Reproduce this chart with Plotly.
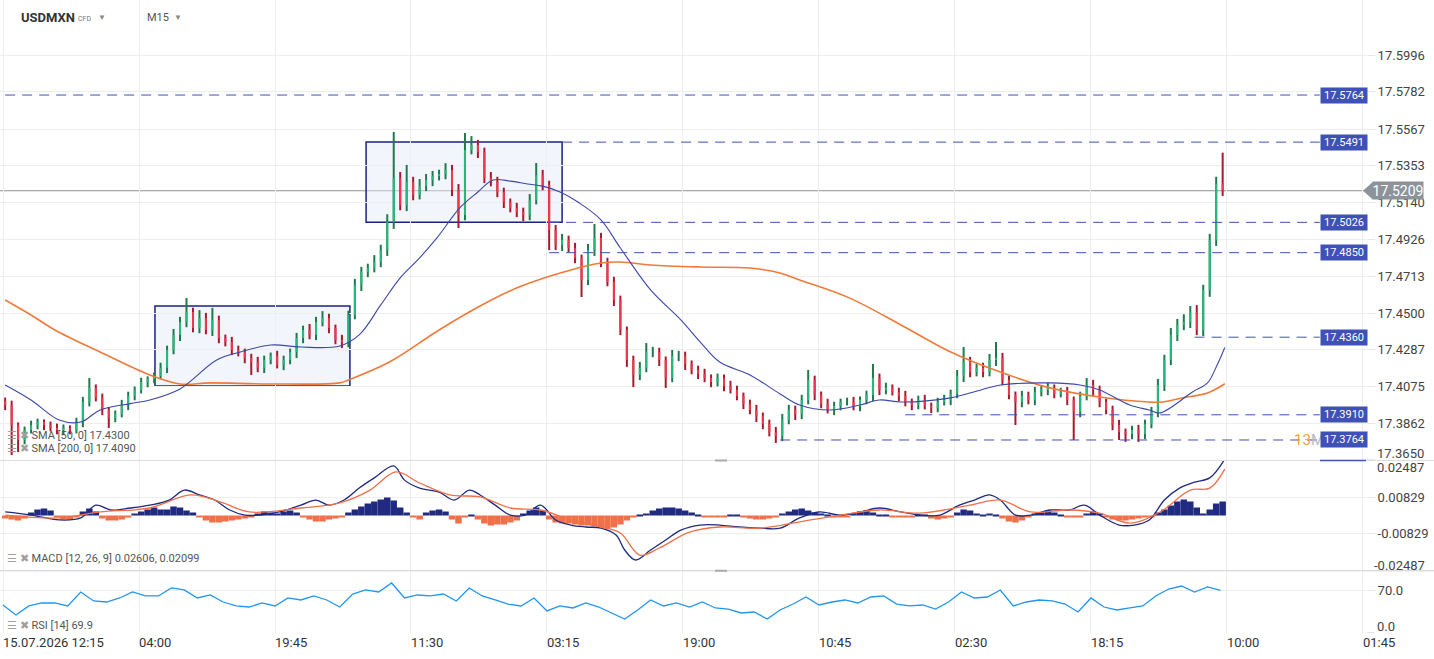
import plotly.graph_objects as go

# ---------------- data ----------------
X_TICK_IDX = [0, 63, 126, 189, 252, 315, 378, 441, 504, 567, 630]
X_TICK_TEXT = ["15.07.2026 12:15", "04:00", "19:45", "11:30", "03:15", "19:00",
               "10:45", "02:30", "18:15", "10:00", "01:45"]
PRICE_TICKS = [17.3650, 17.3862, 17.4075, 17.4287, 17.4500, 17.4713, 17.4926,
               17.5140, 17.5353, 17.5567, 17.5782, 17.5996]
MACD_TICKS = [-0.02487, -0.00829, 0.00829, 0.02487]
RSI_TICKS = [0.0, 70.0]

BAR_STEP = 3          # one drawn candle per 3 M15 bars
FIRST_IDX = 1
OPEN_FIRST = 17.3990
CLOSE = [
    17.3967, 17.3851, 17.3764, 17.3822, 17.3851, 17.3868, 17.3851, 17.3834, 17.3822, 17.3834,
    17.3822, 17.3868, 17.3984, 17.4066, 17.4008, 17.3938, 17.3892, 17.3915, 17.3967, 17.4019,
    17.4054, 17.4100, 17.4118, 17.4135, 17.4182, 17.4286, 17.4373, 17.4448, 17.4506, 17.4413,
    17.4471, 17.4402, 17.4460, 17.4355, 17.4332, 17.4286, 17.4274, 17.4239, 17.4216, 17.4182,
    17.4228, 17.4251, 17.4199, 17.4228, 17.4274, 17.4355, 17.4402, 17.4373, 17.4448, 17.4471,
    17.4413, 17.4344, 17.4332, 17.4489, 17.4663, 17.4738, 17.4761, 17.4796, 17.4866, 17.5028,
    17.5283, 17.5126, 17.5260, 17.5184, 17.5237, 17.5271, 17.5294, 17.5306, 17.5329, 17.5213,
    17.5068, 17.5445, 17.5474, 17.5434, 17.5283, 17.5260, 17.5202, 17.5144, 17.5109, 17.5086,
    17.5068, 17.5155, 17.5300, 17.5242, 17.4981, 17.4895, 17.4924, 17.4877, 17.4819, 17.4692,
    17.4866, 17.4935, 17.4796, 17.4680, 17.4576, 17.4402, 17.4228, 17.4141, 17.4182, 17.4274,
    17.4274, 17.4228, 17.4124, 17.4251, 17.4251, 17.4205, 17.4170, 17.4147, 17.4124, 17.4100,
    17.4124, 17.4077, 17.4054, 17.4019, 17.3973, 17.3938, 17.3903, 17.3857, 17.3810, 17.3787,
    17.3880, 17.3938, 17.3915, 17.3996, 17.4112, 17.4025, 17.3973, 17.3938, 17.3961, 17.3984,
    17.3984, 17.3961, 17.3996, 17.4025, 17.4124, 17.4054, 17.4066, 17.4042, 17.4019, 17.3984,
    17.3967, 17.3996, 17.3961, 17.3950, 17.3984, 17.3996, 17.4031, 17.4135, 17.4216, 17.4158,
    17.4182, 17.4158, 17.4228, 17.4239, 17.4112, 17.4025, 17.3984, 17.4019, 17.3996, 17.4042,
    17.4054, 17.4066, 17.4031, 17.4042, 17.3996, 17.3926, 17.4019, 17.4083, 17.4054, 17.3984,
    17.3938, 17.3851, 17.3810, 17.3799, 17.3822, 17.3799, 17.3857, 17.3926, 17.4083, 17.4228,
    17.4373, 17.4431, 17.4448, 17.4506, 17.4402, 17.4634, 17.4924, 17.5250, 17.5209,
]
# wick lengths above / below the candle body, in pips (0.0001)
WICK_UP = [
    20, 25, 15, 20, 25, 20, 15, 20, 25, 20,
    15, 25, 30, 58, 20, 25, 15, 20, 30, 25,
    20, 25, 15, 20, 30, 25, 35, 30, 81, 25,
    46, 30, 70, 25, 20, 30, 25, 20, 25, 30,
    25, 20, 30, 25, 20, 30, 25, 35, 30, 40,
    25, 20, 30, 25, 35, 30, 25, 40, 30, 45,
    267, 35, 99, 30, 40, 35, 30, 25, 40, 30,
    35, 99, 52, 30, 25, 35, 30, 25, 20, 30,
    25, 35, 70, 30, 25, 30, 35, 25, 30, 20,
    35, 81, 30, 25, 30, 25, 20, 25, 35, 52,
    30, 25, 20, 35, 30, 25, 20, 25, 30, 20,
    25, 20, 30, 25, 20, 25, 30, 20, 25, 30,
    35, 30, 25, 30, 58, 25, 20, 30, 25, 20,
    25, 30, 20, 25, 81, 25, 30, 20, 25, 30,
    20, 25, 30, 20, 25, 30, 25, 35, 87, 30,
    25, 30, 35, 93, 30, 25, 20, 30, 25, 30,
    25, 30, 20, 25, 30, 20, 25, 40, 30, 25,
    20, 25, 30, 20, 25, 30, 25, 30, 35, 30,
    40, 35, 45, 35, 40, 30, 35, 40, 180,
]
WICK_DN = [
    30, 174, 70, 25, 20, 25, 30, 20, 25, 30,
    25, 20, 30, 25, 20, 30, 58, 25, 20, 30,
    25, 20, 30, 25, 20, 30, 25, 35, 30, 25,
    30, 25, 35, 30, 25, 30, 25, 30, 75, 25,
    30, 25, 20, 30, 25, 35, 30, 25, 30, 25,
    30, 25, 35, 30, 25, 35, 30, 25, 30, 35,
    40, 30, 35, 30, 25, 30, 35, 25, 30, 35,
    75, 30, 25, 35, 30, 25, 30, 35, 25, 30,
    35, 30, 25, 30, 116, 30, 35, 25, 30, 99,
    30, 35, 30, 25, 35, 30, 40, 70, 30, 25,
    30, 35, 58, 25, 30, 35, 25, 30, 25, 30,
    25, 30, 20, 25, 30, 25, 35, 30, 25, 40,
    30, 25, 35, 30, 25, 30, 25, 20, 30, 25,
    20, 25, 30, 25, 35, 30, 25, 20, 30, 25,
    30, 25, 20, 30, 25, 20, 30, 25, 35, 30,
    25, 30, 25, 35, 30, 25, 133, 30, 25, 30,
    25, 30, 25, 20, 30, 162, 30, 25, 35, 30,
    25, 30, 46, 46, 30, 46, 30, 25, 30, 35,
    30, 35, 30, 35, 30, 35, 40, 35, 30,
]

SMA50_IDX = [1, 13, 26, 36, 45, 59, 68, 82, 99, 110, 124, 138, 156, 165, 175, 184, 193, 201,
             212, 220, 227, 235, 243, 250, 258, 267, 277, 286, 300, 314, 323, 332, 346, 360,
             369, 383, 397, 406, 416, 439, 453, 462, 485, 499, 508, 522, 531, 536, 551, 558,
             562, 566]
SMA50 = [17.4083, 17.3996, 17.3880, 17.3868, 17.3938, 17.3975, 17.3996, 17.4060, 17.4228,
         17.4274, 17.4315, 17.4303, 17.4309, 17.4373, 17.4547, 17.4704, 17.4820, 17.4936,
         17.5115, 17.5202, 17.5271, 17.5265, 17.5248, 17.5236, 17.5202, 17.5138, 17.5040,
         17.4877, 17.4634, 17.4460, 17.4332, 17.4216, 17.4141, 17.4031, 17.3967, 17.3938,
         17.3967, 17.3996, 17.3984, 17.4008, 17.4054, 17.4083, 17.4095, 17.4083, 17.4054,
         17.3967, 17.3938, 17.3921, 17.4042, 17.4095, 17.4187, 17.4300]

SMA200_IDX = [1, 13, 24, 45, 68, 82, 96, 123, 156, 160, 179, 202, 221, 239, 263, 277, 286,
              300, 323, 346, 360, 369, 392, 416, 439, 462, 485, 508, 531, 537, 546, 558, 566]
SMA200 = [17.4576, 17.4489, 17.4402, 17.4274, 17.4141, 17.4089, 17.4095, 17.4089, 17.4095,
          17.4112, 17.4216, 17.4402, 17.4541, 17.4651, 17.4750, 17.4790, 17.4796, 17.4779,
          17.4767, 17.4761, 17.4732, 17.4692, 17.4588, 17.4431, 17.4274, 17.4158, 17.4066,
          17.4013, 17.3984, 17.3984, 17.4008, 17.4037, 17.4090]

LEVELS = [17.5764, 17.5491, 17.5026, 17.4850, 17.4360, 17.3910, 17.3764]
LEVEL_START = [1, 259, 253, 253, 552, 418, 360]
LEVEL_END = 610
LAST_PRICE = 17.5209
BOXES = [(70.4, 160.7, 17.4077, 17.4541), (168.2, 259.0, 17.5026, 17.5491)]

HIST = [
    -3, -4, -5, -3, 3, 6, 7, 5, -2, -4,
    -4, -2, 4, 7, 4, -3, -5, -5, -4, -2,
    2, 4, 6, 8, 6, 6, 9, 8, 5, 3,
    -2, -5, -7, -7, -6, -5, -4, -3, -1, 2,
    4, 3, 2, 4, 5, 3, -2, -4, -6, -6,
    -4, -3, -1, 3, 6, 9, 12, 14, 16, 18,
    15, 8, 3, -2, -4, 3, 5, 6, 4, -4,
    -8, -2, 1, -4, -8, -10, -9, -9, -7, -5,
    2, 5, 8, 5, -4, -7, -8, -8, -9, -10,
    -10, -11, -12, -13, -12, -9, -5, -1, 1, 2,
    5, 7, 8, 8, 7, 5, 3, 1, -1, -2,
    -2, -1, 1, 1, -2, -3, -4, -4, -3, -2,
    2, 4, 6, 7, 5, 3, 2, 1, -1, -2,
    -1, 2, 4, 5, 3, 1, 1, -1, -2, -2,
    -1, 1, 1, -3, -4, -3, -1, 3, 6, 5,
    2, 1, 2, 1, -3, -6, -7, -5, -2, 2,
    3, 5, 3, 1, -1, -2, -1, 2, 4, 2,
    -2, -4, -5, -5, -4, -3, -2, -1, 3, 6,
    10, 14, 16, 14, 8, 2, 6, 12, 14,
]
HIST_UNIT = 0.000452   # histogram values above are in units of this size

MACD_IDX = [1, 13, 26, 36, 43, 50, 59, 68, 77, 84, 91, 98, 105, 112, 119, 128, 138, 145, 151,
            158, 165, 172, 181, 186, 193, 202, 209, 216, 221, 228, 235, 242, 249, 256, 263,
            270, 277, 284, 288, 293, 300, 307, 314, 323, 332, 341, 351, 360, 369, 378, 388,
            397, 406, 416, 425, 434, 443, 450, 457, 462, 469, 476, 485, 494, 501, 508, 517,
            524, 531, 538, 545, 552, 559, 566]
MACD = [0.0016, 0.0002, -0.0020, -0.0011, 0.0047, 0.0025, 0.0034, 0.0047, 0.0070, 0.0115,
        0.0093, 0.0070, 0.0025, 0.0002, 0.0002, 0.0016, 0.0047, 0.0070, 0.0047, 0.0070,
        0.0124, 0.0170, 0.0224, 0.0160, 0.0124, 0.0106, 0.0070, 0.0115, 0.0093, 0.0047,
        0.0002, 0.0002, 0.0047, -0.0020, -0.0043, -0.0052, -0.0057, -0.0088, -0.0156,
        -0.0201, -0.0156, -0.0111, -0.0066, -0.0043, -0.0043, -0.0052, -0.0057, -0.0057,
        -0.0011, 0.0016, 0.0002, 0.0016, 0.0034, 0.0016, 0.0002, 0.0002, 0.0047, 0.0070,
        0.0093, 0.0070, 0.0002, 0.0002, 0.0025, 0.0025, 0.0047, 0.0002, -0.0043, -0.0043,
        -0.0020, 0.0070, 0.0124, 0.0151, 0.0170, 0.0255]
SIGNAL_IDX = [1, 26, 45, 68, 87, 101, 114, 138, 156, 170, 182, 193, 207, 221, 235, 249, 263,
              277, 286, 295, 304, 318, 332, 351, 369, 388, 406, 425, 448, 462, 476, 494, 508,
              522, 536, 550, 559, 566]
SIGNAL = [0.0002, -0.0011, 0.0016, 0.0034, 0.0093, 0.0061, 0.0016, 0.0034, 0.0057, 0.0115,
          0.0197, 0.0147, 0.0093, 0.0084, 0.0034, 0.0025, -0.0020, -0.0052, -0.0079, -0.0179,
          -0.0147, -0.0075, -0.0052, -0.0057, -0.0029, 0.0002, 0.0025, 0.0011, 0.0047, 0.0070,
          0.0016, 0.0025, 0.0011, -0.0034, 0.0016, 0.0115, 0.0124, 0.0210]
MACD_LEGEND = (0.02606, 0.02099)

RSI_STEP = 6
RSI = [45.9, 29.5, 44.3, 49.2, 49.2, 44.3, 67.2, 52.5, 50.8, 57.4,
       67.2, 60.7, 60.7, 73.8, 70.5, 57.4, 62.3, 50.8, 44.3, 42.6,
       49.2, 44.3, 57.4, 54.1, 60.7, 54.1, 42.6, 63.9, 70.5, 67.2,
       82.0, 57.4, 62.3, 60.7, 63.9, 52.5, 73.8, 60.7, 54.1, 47.5,
       44.3, 57.4, 36.1, 44.3, 41.0, 49.2, 42.6, 32.8, 23.0, 37.7,
       54.1, 44.3, 49.2, 42.6, 50.8, 41.0, 39.3, 32.8, 34.4, 23.0,
       37.7, 47.5, 59.0, 45.9, 50.8, 54.1, 49.2, 59.0, 60.7, 47.5,
       44.3, 45.9, 39.3, 50.8, 67.2, 57.4, 59.0, 70.5, 44.3, 50.8,
       54.1, 52.5, 47.5, 34.4, 57.4, 42.6, 37.7, 41.0, 44.3, 60.7,
       72.1, 77.0, 67.2, 75.4, 69.9]

# ---------------- derived OHLC ----------------
n = len(CLOSE)
IDX = [FIRST_IDX + BAR_STEP * k for k in range(n)]
OPEN = [OPEN_FIRST] + CLOSE[:-1]
HIGH = [max(o, c) + u * 1e-4 for o, c, u in zip(OPEN, CLOSE, WICK_UP)]
LOW = [min(o, c) - d * 1e-4 for o, c, d in zip(OPEN, CLOSE, WICK_DN)]

FONT = "Roboto, Arial, sans-serif"
UP_WICK, UP_BODY = "#1d7a4c", "#27b87a"
DN_WICK, DN_BODY = "#a51b2e", "#f2364c"
NAVY = "#1f2a80"
ORANGE = "#f0704a"
LEVEL_BLUE = "#3f51b5"
GRID = "#eeeeee"


def seg(xs, a, b):
    X, Y = [], []
    for x, y0, y1 in zip(xs, a, b):
        X += [x, x, None]
        Y += [y0, y1, None]
    return X, Y


fig = go.Figure()

for up, wc, bc in [(True, UP_WICK, UP_BODY), (False, DN_WICK, DN_BODY)]:
    sel = [i for i in range(n) if (CLOSE[i] >= OPEN[i]) == up]
    wx, wy = seg([IDX[i] for i in sel], [LOW[i] for i in sel], [HIGH[i] for i in sel])
    bx, by = seg([IDX[i] for i in sel], [OPEN[i] for i in sel], [CLOSE[i] for i in sel])
    fig.add_trace(go.Scatter(x=wx, y=wy, mode="lines", line=dict(color=wc, width=2),
                             hoverinfo="skip", showlegend=False))
    fig.add_trace(go.Scatter(x=bx, y=by, mode="lines", line=dict(color=bc, width=2),
                             hoverinfo="skip", showlegend=False))

fig.add_trace(go.Scatter(x=SMA200_IDX, y=SMA200, mode="lines",
                         line=dict(color="#f07a3a", width=1.6, shape="spline"), showlegend=False))
fig.add_trace(go.Scatter(x=SMA50_IDX, y=SMA50, mode="lines",
                         line=dict(color="#3c48a8", width=1.1, shape="spline"), showlegend=False))

# MACD pane
hist_vals = [h * HIST_UNIT for h in HIST]
fig.add_trace(go.Bar(x=IDX, y=hist_vals, width=BAR_STEP,
                     marker=dict(color=[NAVY if v >= 0 else ORANGE for v in hist_vals], line_width=0),
                     xaxis="x2", yaxis="y2", showlegend=False))
fig.add_trace(go.Scatter(x=MACD_IDX, y=MACD, mode="lines", line=dict(color=NAVY, width=1.3, shape="spline"),
                         xaxis="x2", yaxis="y2", showlegend=False))
fig.add_trace(go.Scatter(x=SIGNAL_IDX, y=SIGNAL, mode="lines", line=dict(color=ORANGE, width=1.3, shape="spline"),
                         xaxis="x2", yaxis="y2", showlegend=False))

# RSI pane
fig.add_trace(go.Scatter(x=[RSI_STEP * k for k in range(len(RSI))], y=RSI, mode="lines",
                         line=dict(color="#2196f3", width=1.3), xaxis="x3", yaxis="y3", showlegend=False))

shapes = []
for x0, x1, y0, y1 in BOXES:
    shapes.append(dict(type="rect", xref="x", yref="y", x0=x0, x1=x1, y0=y0, y1=y1,
                       fillcolor="rgba(228,233,248,0.45)", line=dict(color="#1a237e", width=1.5),
                       layer="below"))
shapes.append(dict(type="line", xref="paper", yref="y", x0=0, x1=1, y0=LAST_PRICE, y1=LAST_PRICE,
                   line=dict(color="#8c9296", width=1), layer="below"))
for lv, st in zip(LEVELS, LEVEL_START):
    shapes.append(dict(type="line", xref="x", yref="y", x0=st, x1=LEVEL_END, y0=lv, y1=lv,
                       line=dict(color=LEVEL_BLUE, width=1, dash="10px,7px")))
# pane separators
shapes.append(dict(type="line", xref="paper", yref="y2 domain", x0=0, x1=1434 / 1366, y0=1, y1=1,
                   line=dict(color="#dddddd", width=1)))
shapes.append(dict(type="line", xref="paper", yref="y3 domain", x0=0, x1=1434 / 1366, y0=1.02, y1=1.02,
                   line=dict(color="#dddddd", width=1.5)))
shapes.append(dict(type="line", xref="paper", yref="y2 domain", x0=1320 / 1366, x1=1, y0=1, y1=1,
                   line=dict(color=LEVEL_BLUE, width=1.5)))
for yr, yy in [("y2 domain", 1), ("y3 domain", 1.02)]:
    shapes.append(dict(type="line", xref="paper", yref=yr, x0=715 / 1366, x1=727 / 1366, y0=yy, y1=yy,
                       line=dict(color="#aaaaaa", width=2)))
# current price arrow
shapes.append(dict(type="path", xref="paper", yref="y", xsizemode="pixel", ysizemode="pixel",
                   xanchor=1363 / 1366, yanchor=LAST_PRICE, path="M0,0 L10,9 L10,-9 Z",
                   fillcolor="#8c9399", line=dict(width=0)))

ann = []
ann.append(dict(text="<span style='color:#f7a234'>13</span><span style='color:#bbbbbb'>M</span>",
                xref="x", yref="y", x=LEVEL_END, y=17.3764, xanchor="right", xshift=6,
                showarrow=False, font=dict(family=FONT, size=15)))
for lv in LEVELS:
    ann.append(dict(text=f"{lv:.4f}", xref="x", yref="y", x=LEVEL_END, y=lv, xanchor="left",
                    showarrow=False, bgcolor=LEVEL_BLUE, width=46, height=15, borderpad=0,
                    font=dict(family=FONT, size=11, color="white")))
ann.append(dict(text=f"{LAST_PRICE:.4f}", xref="paper", yref="y", x=1372 / 1366, y=LAST_PRICE,
                xanchor="left", showarrow=False, bgcolor="#8c9399", width=50, height=17, borderpad=0,
                font=dict(family=FONT, size=14, color="white")))
# edge tick labels (clamped inside pane)
ann.append(dict(text=f"{PRICE_TICKS[0]:.4f}", xref="paper", yref="y", x=1375 / 1366, y=PRICE_TICKS[0],
                yshift=6, xanchor="left", showarrow=False, font=dict(family=FONT, size=13, color="#444")))
ann.append(dict(text=f"{MACD_TICKS[-1]:.5f}", xref="paper", yref="y2", x=1375 / 1366, y=MACD_TICKS[-1],
                yshift=-7, xanchor="left", showarrow=False, font=dict(family=FONT, size=13, color="#444")))
ann.append(dict(text=f"{MACD_TICKS[0]:.5f}", xref="paper", yref="y2", x=1372 / 1366, y=MACD_TICKS[0],
                yshift=5, xanchor="left", showarrow=False, font=dict(family=FONT, size=13, color="#444")))
ann.append(dict(text=f"{RSI_TICKS[0]:.1f}", xref="paper", yref="y3", x=1375 / 1366, y=RSI_TICKS[0],
                yshift=6, xanchor="left", showarrow=False, font=dict(family=FONT, size=13, color="#444")))
# legends
icons = "<span style='color:#a0a0a0'>☰ ✖</span> "
for txt, yr, yy in [(f"SMA [50, 0] {SMA50[-1]:.4f}", "y domain", 0.054),
                    (f"SMA [200, 0] {SMA200[-1]:.4f}", "y domain", 0.024),
                    (f"MACD [12, 26, 9] {MACD_LEGEND[0]:.5f}, {MACD_LEGEND[1]:.5f}", "y2 domain", 0.105),
                    (f"RSI [14] {RSI[-1]:.1f}", "y3 domain", 0.12)]:
    ann.append(dict(text=icons + txt, xref="paper", yref=yr, x=5 / 1366, y=yy, xanchor="left",
                    yanchor="middle", showarrow=False, font=dict(family=FONT, size=11, color="#555")))
# header
hdr_y = 0.961
hdr = [("<b>USDMXN</b>", 19, 0.0, 13, "#333"),
       ("CFD", 76, -0.002, 7, "#777"),
       ("▼", 96, 0.002, 8, "#888"),
       ("M15", 145, 0.0, 11, "#555"),
       ("▼", 172, 0.002, 8, "#888")]
for txt, xp, dy, sz, col in hdr:
    ann.append(dict(text=txt, xref="paper", yref="y domain", x=xp / 1366, y=hdr_y + dy,
                    xanchor="left", yanchor="middle", showarrow=False,
                    font=dict(family=FONT, size=sz, color=col)))

xr = [-1.39, 631.4]
xcommon = dict(range=xr, tickvals=X_TICK_IDX, showgrid=True, gridcolor=GRID, zeroline=False,
               showline=False, ticks="")
ycommon = dict(side="right", showgrid=True, gridcolor=GRID, zeroline=False, showline=False,
               ticks="outside", ticklen=8, tickcolor="#e6e6e6",
               tickfont=dict(family=FONT, size=13, color="#444"))

fig.update_layout(
    width=1434, height=659, margin=dict(l=0, r=68, t=0, b=26),
    paper_bgcolor="white", plot_bgcolor="white", showlegend=False, barmode="overlay",
    font=dict(family=FONT),
    xaxis=dict(domain=[0, 1], anchor="y", showticklabels=False, **xcommon),
    xaxis2=dict(domain=[0, 1], anchor="y2", matches="x", showticklabels=False, **xcommon),
    xaxis3=dict(domain=[0, 1], anchor="y3", matches="x", showticklabels=True, ticktext=X_TICK_TEXT,
                ticklabelposition="outside right", tickfont=dict(family=FONT, size=13, color="#333"),
                **xcommon),
    yaxis=dict(domain=[0.2733, 1], anchor="x", range=[17.3648, 17.6315], tickvals=PRICE_TICKS,
               ticktext=[""] + [f"{v:.4f}" for v in PRICE_TICKS[1:]], **ycommon),
    yaxis2=dict(domain=[0.0987, 0.2725], anchor="x2", range=[MACD_TICKS[0], MACD_TICKS[-1]],
                tickvals=MACD_TICKS, ticktext=["", f"{MACD_TICKS[1]:.5f}", f"{MACD_TICKS[2]:.5f}", ""],
                **ycommon),
    yaxis3=dict(domain=[0, 0.0964], anchor="x3", range=[0, 100], tickvals=RSI_TICKS,
                ticktext=["", f"{RSI_TICKS[1]:.1f}"], **ycommon),
    shapes=shapes, annotations=ann,
)

fig.write_html("out.html")
